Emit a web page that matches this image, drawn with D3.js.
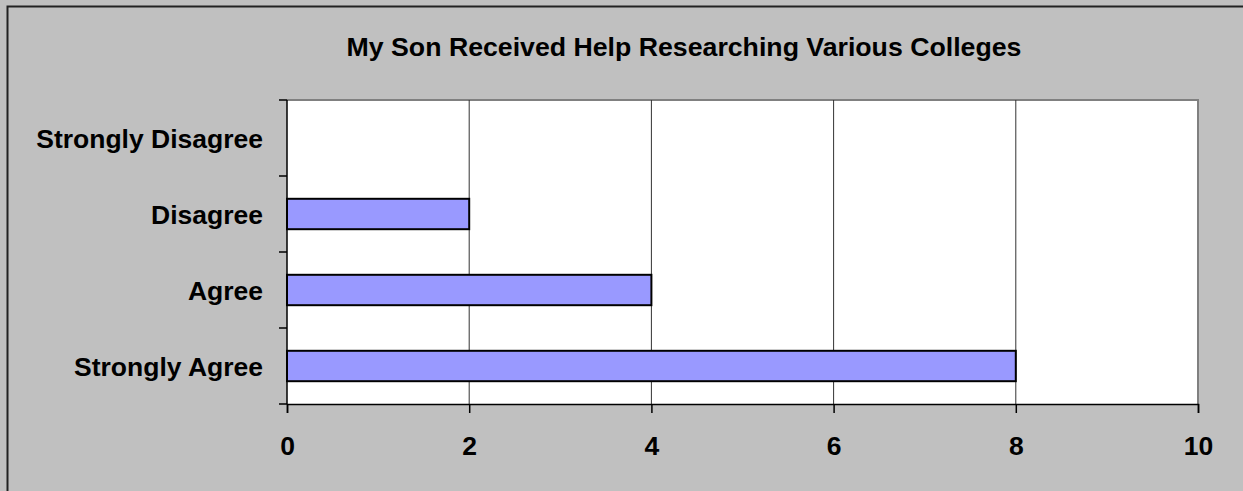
<!DOCTYPE html>
<html>
<head>
<meta charset="utf-8">
<script src="https://cdn.jsdelivr.net/npm/d3@7"></script>
<style>
  html, body { margin: 0; padding: 0; background: #c0c0c0; overflow: hidden; }
  text { font-family: "Liberation Sans", Arial, sans-serif; font-weight: bold; fill: #000; }
</style>
</head>
<body>
<div id="chart"></div>
<script>
var title = "My Son Received Help Researching Various Colleges";
var categories = ["Strongly Disagree", "Disagree", "Agree", "Strongly Agree"];
var values = [0, 2, 4, 8];
var xTicks = [0, 2, 4, 6, 8, 10];

var width = 1243, height = 491;
var plot = { left: 287, right: 1198, top: 100, bottom: 404 };

var svg = d3.select("#chart").append("svg")
    .attr("width", width)
    .attr("height", height)
    .style("display", "block");

// chart area background and outer frame (only top and left edges are in view)
svg.append("rect")
    .attr("x", 0).attr("y", 0)
    .attr("width", width).attr("height", height)
    .attr("fill", "#c0c0c0");
svg.append("path")
    .attr("d", "M7.5," + height + "V6.5H" + width)
    .attr("fill", "none")
    .attr("stroke", "#222")
    .attr("stroke-width", 2);

var x = d3.scaleLinear()
    .domain([0, 10])
    .range([plot.left, plot.right]);

var y = d3.scaleBand()
    .domain(categories)
    .range([plot.top, plot.bottom])
    .paddingInner(0.6)
    .paddingOuter(0.3);

// plot area
svg.append("rect")
    .attr("x", plot.left).attr("y", plot.top)
    .attr("width", plot.right - plot.left)
    .attr("height", plot.bottom - plot.top)
    .attr("fill", "#fff");

svg.append("path")
    .attr("d", "M" + plot.left + "," + plot.top + "H" + plot.right + "V" + plot.bottom)
    .attr("fill", "none")
    .attr("stroke", "#808080")
    .attr("stroke-width", 2);

// vertical gridlines
svg.append("g")
    .selectAll("line")
    .data(xTicks.filter(function(d) { return d > 0 && d < 10; }))
    .enter().append("line")
    .attr("x1", function(d) { return x(d); })
    .attr("x2", function(d) { return x(d); })
    .attr("y1", plot.top)
    .attr("y2", plot.bottom)
    .attr("stroke", "#333")
    .attr("stroke-width", 1);

// bars
svg.append("g")
    .selectAll("rect")
    .data(categories)
    .enter().append("rect")
    .filter(function(d, i) { return values[i] > 0; })
    .attr("x", x(0))
    .attr("y", function(d) { return y(d); })
    .attr("width", function(d) { return x(values[categories.indexOf(d)]) - x(0); })
    .attr("height", y.bandwidth())
    .attr("fill", "#9999ff")
    .attr("stroke", "#000")
    .attr("stroke-width", 2);

// x axis
var xAxis = svg.append("g")
    .attr("transform", "translate(0," + plot.bottom + ")")
    .call(d3.axisBottom(x).tickValues(xTicks).tickSize(9).tickPadding(23));
xAxis.select(".domain").attr("stroke", "#000").attr("stroke-width", 1.5);
xAxis.selectAll(".tick line").attr("stroke", "#000").attr("stroke-width", 1.5);
xAxis.selectAll("text")
    .style("font-size", "26.5px")
    .style("font-family", "'Liberation Sans', Arial, sans-serif")
    .style("font-weight", "bold")
    .attr("fill", "#000");

// y axis: ticks sit on category boundaries
var gap = (y.step() - y.bandwidth()) / 2;
var bounds = categories.map(function(d) { return y(d) - gap; })
    .concat([y(categories[categories.length - 1]) + y.bandwidth() + gap]);

var yAxis = svg.append("g");
yAxis.append("line")
    .attr("x1", plot.left).attr("x2", plot.left)
    .attr("y1", plot.top).attr("y2", plot.bottom)
    .attr("stroke", "#000").attr("stroke-width", 1.5);
yAxis.selectAll(".ytick")
    .data(bounds)
    .enter().append("line")
    .attr("class", "ytick")
    .attr("x1", plot.left - 8).attr("x2", plot.left)
    .attr("y1", function(d) { return d; })
    .attr("y2", function(d) { return d; })
    .attr("stroke", "#000").attr("stroke-width", 1.5);
yAxis.selectAll("text")
    .data(categories)
    .enter().append("text")
    .attr("x", plot.left - 24)
    .attr("y", function(d) { return y(d) + y.bandwidth() / 2; })
    .attr("dy", "0.36em")
    .attr("text-anchor", "end")
    .style("font-size", "26.5px")
    .text(function(d) { return d; });

// title
svg.append("text")
    .attr("x", 684)
    .attr("y", 56)
    .attr("text-anchor", "middle")
    .style("font-size", "26.7px")
    .text(title);

// keep the right margin clear of the frame
svg.append("rect")
    .attr("x", plot.right + 24).attr("y", 10)
    .attr("width", width - plot.right - 24).attr("height", height - 10)
    .attr("fill", "#c0c0c0");
</script>
</body>
</html>
